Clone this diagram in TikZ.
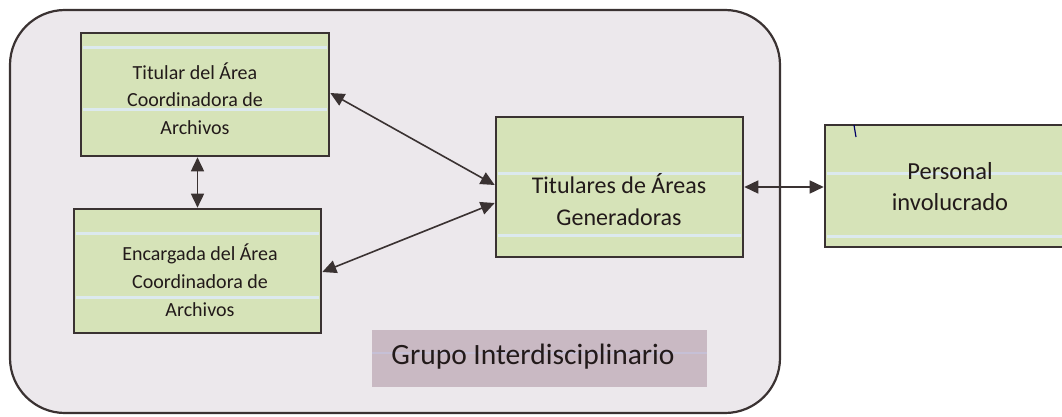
\documentclass[tikz,border=0pt]{standalone}
\usepackage{fontspec}
\setmainfont{Carlito}
\usetikzlibrary{arrows.meta,calc}
\definecolor{bgpink}{HTML}{ECE8EC}
\definecolor{boxgreen}{HTML}{D6E3B8}
\definecolor{labelmauve}{HTML}{C9B9C3}
\definecolor{inkdark}{HTML}{3A3232}
\definecolor{textdark}{HTML}{221A1A}
\definecolor{scanblue}{HTML}{DCE9EE}
\definecolor{scanmauve}{HTML}{C6C0D6}
\tikzset{
  greenbox/.style={draw=inkdark, line width=2.6pt, fill=boxgreen, rectangle, inner sep=0pt},
  boxtext/.style={align=center, text=textdark, inner sep=0pt},
  link/.style={draw=inkdark, line width=1.6pt, {Triangle[length=14pt,width=13pt]}-{Triangle[length=14pt,width=13pt]}},
  scanline/.style={draw=scanblue, line width=3pt}
}
\begin{document}
\begin{tikzpicture}[x=1pt,y=-1pt]
\useasboundingbox (0,0) rectangle (1062,417);
\clip (0,0) rectangle (1062,417);
\fill[white] (0,0) rectangle (1062,417);
% outer group
\draw[draw=inkdark, line width=2.2pt, fill=bgpink, rounded corners=55pt] (10,10) rectangle (780,413);
% boxes
\node[greenbox, minimum width=248pt, minimum height=123pt] (b1) at (205,94.5) {};
\node[greenbox, minimum width=247pt, minimum height=124pt] (b2) at (197.5,271) {};
\node[greenbox, minimum width=247pt, minimum height=140pt] (b3) at (619.5,187) {};
\node[greenbox, minimum width=250pt, minimum height=122pt] (b4) at (950,186) {};
\node[fill=labelmauve, minimum width=335pt, minimum height=57pt, inner sep=0pt] (gl) at (539.5,358.5) {};
% scanner lines
\draw[scanline] (83,48) -- (327,48);
\draw[scanline] (83,110) -- (327,110);
\draw[scanline] (76,233) -- (319,233);
\draw[scanline] (76,297) -- (319,297);
\draw[scanline] (498,173) -- (741,173);
\draw[scanline] (498,235) -- (741,235);
\draw[scanline] (827,173) -- (1062,173);
\draw[scanline] (827,236) -- (1062,236);
\draw[draw=scanmauve, line width=2.5pt] (372,353) -- (707,353);
% pen mark
\draw[draw=blue!40!black, line width=1.2pt] (854,125) -- (856,137);
% texts
\node[boxtext, font=\fontsize{20}{27.5}\selectfont] (t1) at (195,98.5) {Titular del Área\\Coordinadora de\\Archivos};
\node[boxtext, font=\fontsize{20}{28}\selectfont] (t2) at (200,280) {Encargada del Área\\Coordinadora de\\Archivos};
\node[boxtext, font=\fontsize{24}{32}\selectfont] (t3) at (619,200) {Titulares de Áreas\\Generadoras};
\node[boxtext, font=\fontsize{24.5}{31}\selectfont] (t4) at (950,187) {Personal\\involucrado};
\node[boxtext, font=\fontsize{29.5}{34}\selectfont] (t5) at (533,357) {Grupo Interdisciplinario};
% connectors
\draw[link] ([yshift=1.5pt]b1.east) -- ([yshift=2pt]b3.west);
\draw[link] ([yshift=-1pt]b2.east) -- ([yshift=-16pt]b3.west);
\draw[link] (b2.north) -- (b2.north |- b1.south);
\draw[link] (b3.east) -- (b3.east -| b4.west);
\end{tikzpicture}
\end{document}
